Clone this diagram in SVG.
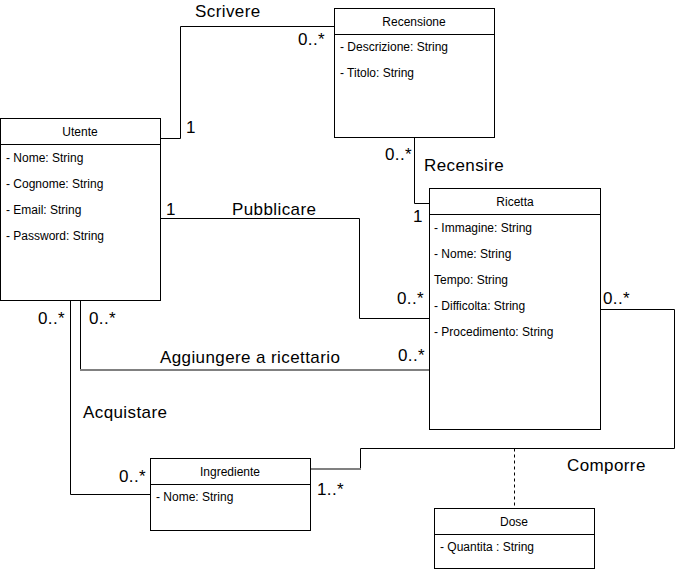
<svg xmlns="http://www.w3.org/2000/svg" width="676" height="570" viewBox="0 0 676 570">
<style>
.box{fill:#fff;stroke:#000;stroke-width:1}
.ln{fill:none;stroke:#000;stroke-width:1}
.gl{fill:none;stroke:#808080;stroke-width:2}
.t{font-family:"Liberation Sans",Arial,sans-serif;font-size:12px;fill:#000}
.c{text-anchor:middle}
.a{font-family:"Liberation Sans",Arial,sans-serif;font-size:17px;letter-spacing:0.4px;fill:#000}
</style>
<rect width="676" height="570" fill="#fff"/>
<g id="connectors">
<polyline class="ln" points="160.5,138.5 180.5,138.5 180.5,26.5 334,26.5"/>
<polyline class="ln" points="414.5,137 414.5,203.5 429,203.5"/>
<polyline class="ln" points="160,218.5 359.5,218.5 359.5,318.5 429,318.5"/>
<polyline class="ln" points="80.5,300 80.5,370"/>
<line class="gl" x1="80" y1="370" x2="429" y2="370"/>
<polyline class="ln" points="70.5,300 70.5,494.5 151,494.5"/>
<polyline class="ln" points="601,309.5 674.5,309.5 674.5,448.5 360.5,448.5 360.5,469"/>
<line class="gl" x1="361" y1="469" x2="311" y2="469"/>
<line class="ln" x1="514.5" y1="448.5" x2="514.5" y2="508" stroke-dasharray="3,3"/>
<text class="a" x="195" y="17">Scrivere</text>
<text class="a" x="298" y="45">0..*</text>
<text class="a" x="186" y="133">1</text>
<text class="a" x="385" y="160">0..*</text>
<text class="a" x="424" y="171">Recensire</text>
<text class="a" x="413" y="222">1</text>
<text class="a" x="166" y="215">1</text>
<text class="a" x="232" y="215">Pubblicare</text>
<text class="a" x="397" y="304">0..*</text>
<text class="a" x="38" y="324">0..*</text>
<text class="a" x="89" y="324">0..*</text>
<text class="a" x="160" y="363">Aggiungere a ricettario</text>
<text class="a" x="398" y="361">0..*</text>
<text class="a" x="83" y="418">Acquistare</text>
<text class="a" x="119" y="482">0..*</text>
<text class="a" x="317" y="495">1..*</text>
<text class="a" x="567" y="471">Comporre</text>
<text class="a" x="603" y="304">0..*</text>
</g>
<g id="Utente">
<rect class="box" x="0.5" y="118.5" width="160" height="182"/>
<line class="ln" x1="0.5" y1="144.5" x2="160.5" y2="144.5"/>
<text class="t c" x="80" y="136">Utente</text>
<text class="t" x="6" y="162">- Nome: String</text>
<text class="t" x="6" y="188">- Cognome: String</text>
<text class="t" x="6" y="214">- Email: String</text>
<text class="t" x="6" y="240">- Password: String</text>
</g>
<g id="Recensione">
<rect class="box" x="334.5" y="8.5" width="160" height="129"/>
<line class="ln" x1="334.5" y1="34.5" x2="494.5" y2="34.5"/>
<text class="t c" x="414" y="26">Recensione</text>
<text class="t" x="340" y="51">- Descrizione: String</text>
<text class="t" x="340" y="77">- Titolo: String</text>
</g>
<g id="Ricetta">
<rect class="box" x="429.5" y="188.5" width="171" height="241"/>
<line class="ln" x1="429.5" y1="214.5" x2="600.5" y2="214.5"/>
<text class="t c" x="515" y="206">Ricetta</text>
<text class="t" x="434" y="232">- Immagine: String</text>
<text class="t" x="434" y="258">- Nome: String</text>
<text class="t" x="434" y="284">Tempo: String</text>
<text class="t" x="434" y="310">- Difficolta: String</text>
<text class="t" x="434" y="336">- Procedimento: String</text>
</g>
<g id="Ingrediente">
<rect class="box" x="150.5" y="458.5" width="160" height="72"/>
<line class="ln" x1="150.5" y1="484.5" x2="310.5" y2="484.5"/>
<text class="t c" x="230" y="476">Ingrediente</text>
<text class="t" x="156" y="501">- Nome: String</text>
</g>
<g id="Dose">
<rect class="box" x="434.5" y="508.5" width="160" height="60"/>
<line class="ln" x1="434.5" y1="534.5" x2="594.5" y2="534.5"/>
<text class="t c" x="514" y="526">Dose</text>
<text class="t" x="440" y="551">- Quantita : String</text>
</g>
</svg>
